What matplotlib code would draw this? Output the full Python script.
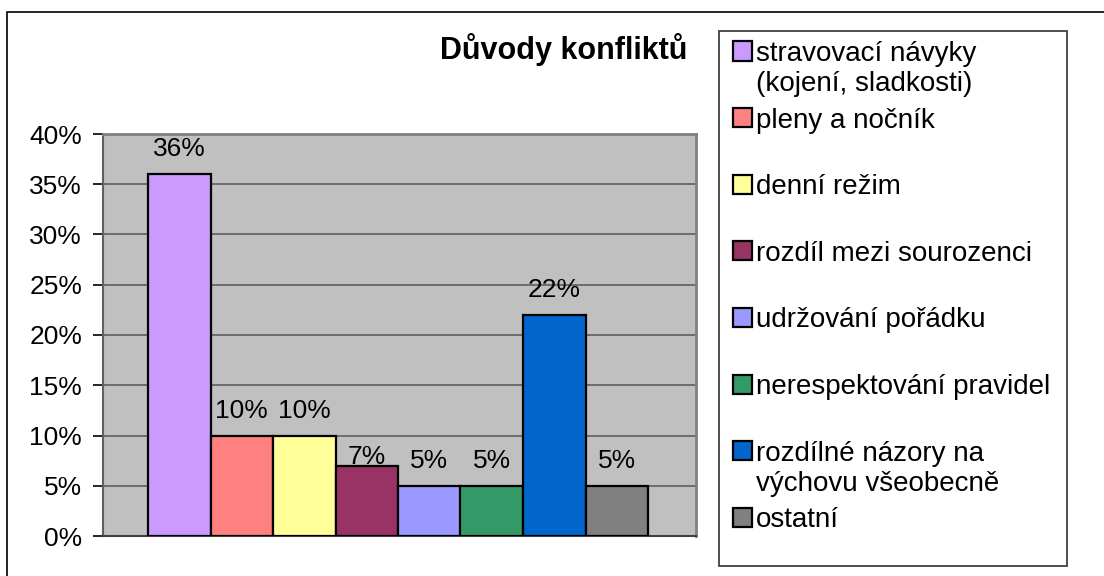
import matplotlib
matplotlib.use("Agg")
import matplotlib.pyplot as plt
from matplotlib.patches import Rectangle
from matplotlib.ticker import FuncFormatter, MultipleLocator

# data
categories = [
    "stravovací návyky\n(kojení, sladkosti)",
    "pleny a nočník",
    "denní režim",
    "rozdíl mezi sourozenci",
    "udržování pořádku",
    "nerespektování pravidel",
    "rozdílné názory na\nvýchovu všeobecně",
    "ostatní",
]
values = [0.36, 0.10, 0.10, 0.07, 0.05, 0.05, 0.22, 0.05]
colors = ["#CC99FF", "#FF8080", "#FFFF99", "#993366",
          "#9999FF", "#339966", "#0066CC", "#808080"]
title = "Důvody konfliktů"

plt.rcParams["font.family"] = ["Liberation Sans", "DejaVu Sans"]

W, H = 1104, 576
fig = plt.figure(figsize=(W / 100, H / 100), dpi=100)


def fx(px):
    return px / W


def fy(py):
    return 1 - py / H


# outer chart frame (cut off on the right and bottom)
fig.patches.append(Rectangle((fx(7), -0.1), 1.2, fy(12) + 0.1,
                             transform=fig.transFigure, fill=False,
                             edgecolor="black", lw=1.2))

ax = fig.add_axes([fx(103), fy(536), fx(696) - fx(103), fy(134) - fy(536)])
ax.set_facecolor("#C0C0C0")

x = list(range(len(values)))
bars = ax.bar(x, values, width=1.0, color=colors, edgecolor="black",
              linewidth=1.6, zorder=3)

ax.set_xlim(-1.22, 8.268)
ax.set_ylim(0, 0.40)
ax.yaxis.set_major_locator(MultipleLocator(0.05))
ax.yaxis.set_major_formatter(FuncFormatter(lambda v, p: f"{v * 100:.0f}%"))
ax.grid(axis="y", color="#555555", lw=1.1, zorder=1)
ax.set_xticks([])
ax.tick_params(axis="y", labelsize=19, length=7, width=1.2, pad=8,
               color="black")

for side in ("top", "right"):
    ax.spines[side].set_color("#808080")
    ax.spines[side].set_linewidth(2)
ax.spines["left"].set_color("#606060")
ax.spines["left"].set_linewidth(1.5)
ax.spines["bottom"].set_color("#404040")
ax.spines["bottom"].set_linewidth(1.5)

# value labels above the bars
for i, (b, v) in enumerate(zip(bars, values)):
    off = 2 if i == 3 else 18
    ax.annotate(f"{v * 100:.0f}%", (b.get_x() + b.get_width() / 2, v),
                xytext=(0, off * 0.72), textcoords="offset points",
                ha="center", va="baseline", fontsize=19, zorder=4)

fig.text(fx(687), fy(50), title, ha="right", va="center",
         fontsize=22, fontweight="bold")

# legend box drawn by hand
fig.patches.append(Rectangle((fx(719), fy(566)), fx(1067) - fx(719),
                             fy(31) - fy(566), transform=fig.transFigure,
                             facecolor="white", edgecolor="#404040", lw=1.3))
row0, step, line_h = 51, 66.6, 30
for i, (lab, c) in enumerate(zip(categories, colors)):
    yc = row0 + i * step
    fig.patches.append(Rectangle((fx(733), fy(yc + 9.5)), fx(19), 19 / H,
                                 transform=fig.transFigure, facecolor=c,
                                 edgecolor="black", lw=1.6))
    for k, line in enumerate(lab.split("\n")):
        fig.text(fx(756), fy(yc + 10 + k * line_h), line, ha="left",
                 va="baseline", fontsize=20)

fig.savefig("out.png", dpi=100)
